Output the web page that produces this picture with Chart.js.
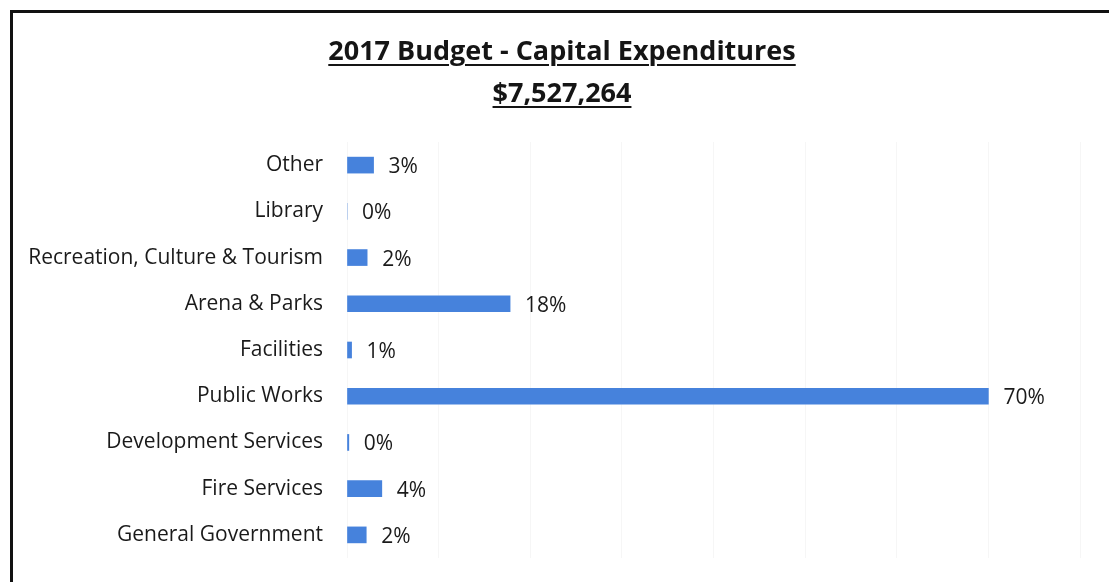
<!DOCTYPE html>
<html>
<head>
<meta charset="utf-8">
<script src="https://cdn.jsdelivr.net/npm/chart.js@4.4.1/dist/chart.umd.min.js"></script>
<style>
  html, body { margin: 0; padding: 0; background: #fff; }
  body { width: 1109px; height: 582px; position: relative; overflow: hidden; font-family: "Open Sans", sans-serif; }
  #frame { position: absolute; left: 10px; top: 10px; width: 1200px; height: 700px; border-left: 3px solid #111; border-top: 3px solid #111; }
  .title { position: absolute; left: 0; width: 1124px; text-align: center; font-weight: bold; font-size: 27px; color: #151515; text-decoration: underline; text-decoration-thickness: 2px; text-underline-offset: 4px; z-index: 2; }
  #barChart { position: absolute; left: 0; top: 0; }
</style>
</head>
<body>
<div id="frame"></div>
<div class="title" style="top:31px">2017 Budget - Capital Expenditures</div>
<div class="title" style="top:73px">$7,527,264</div>
<canvas id="barChart" width="1109" height="582"></canvas>
<script>
var categories = ['Other', 'Library', 'Recreation, Culture & Tourism', 'Arena & Parks', 'Facilities',
                  'Public Works', 'Development Services', 'Fire Services', 'General Government'];
var shares     = [2.9, 0, 2.2, 17.8, 0.5, 70.0, 0.2, 3.8, 2.1];
var axisMax    = 80;

// writes the rounded percentage next to each bar
var valueLabels = {
    id: 'valueLabels',
    afterDatasetsDraw: function (chart) {
        var ctx = chart.ctx;
        var meta = chart.getDatasetMeta(0);
        ctx.save();
        ctx.font = '21px "Open Sans"';
        ctx.fillStyle = '#1a1a1a';
        ctx.textBaseline = 'middle';
        meta.data.forEach(function (bar, i) {
            ctx.fillText(Math.round(shares[i]) + '%', bar.x + 15, bar.y + 2);
        });
        ctx.restore();
    }
};

var ctxB = document.getElementById('barChart').getContext('2d');
var myChart = new Chart(ctxB, {
    type: 'bar',
    data: {
        labels: categories,
        datasets: [{
            data: shares,
            backgroundColor: '#4682dc',
            barThickness: 16
        }]
    },
    options: {
        indexAxis: 'y',
        responsive: false,
        animation: false,
        layout: { padding: { left: 0, right: 29, top: 142, bottom: 24 } },
        plugins: {
            legend: { display: false },
            tooltip: { enabled: false }
        },
        scales: {
            x: {
                min: 0,
                max: axisMax,
                ticks: { display: false, stepSize: 10 },
                grid: { color: '#f6f6f6', drawTicks: false },
                border: { display: false },
                afterFit: function (scale) { scale.height = 0; }
            },
            y: {
                grid: { display: false, drawTicks: false },
                border: { display: false },
                ticks: {
                    color: '#1a1a1a',
                    padding: 24,
                    font: { family: 'Open Sans', size: 21 }
                },
                afterFit: function (scale) {
                    scale.width = 347;
                    scale.paddingTop = 0;
                    scale.paddingBottom = 0;
                }
            }
        }
    },
    plugins: [valueLabels]
});
</script>
</body>
</html>
